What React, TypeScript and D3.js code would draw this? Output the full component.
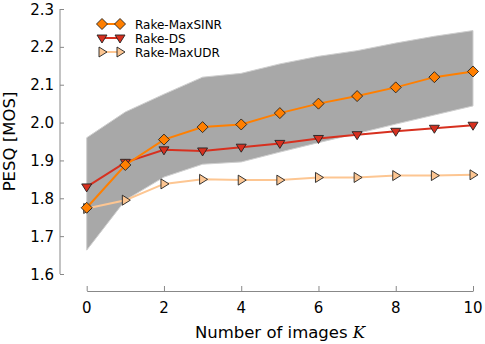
import { useEffect, useRef } from "react"
import * as d3 from "d3"

const ks = [0, 1, 2, 3, 4, 5, 6, 7, 8, 9, 10]
const maxSinr = [1.775, 1.888, 1.955, 1.988, 1.995, 2.025, 2.05, 2.07, 2.093, 2.12, 2.135]
const rakeDs = [1.83, 1.895, 1.928, 1.925, 1.935, 1.945, 1.958, 1.968, 1.977, 1.985, 1.993]
const maxUdr = [1.773, 1.795, 1.838, 1.85, 1.848, 1.848, 1.855, 1.855, 1.86, 1.86, 1.862]
const bandTop = [1.96, 2.028, 2.075, 2.12, 2.13, 2.155, 2.175, 2.19, 2.21, 2.228, 2.243]
const bandLow = [1.663, 1.795, 1.856, 1.89, 1.896, 1.922, 1.947, 1.971, 1.996, 2.02, 2.044]
const yTicks = [1.6, 1.7, 1.8, 1.9, 2.0, 2.1, 2.2, 2.3]
const xTicks = [0, 2, 4, 6, 8, 10]

const series = [
  { name: "Rake-MaxSINR", values: maxSinr, color: "#ff7f00", marker: "diamond" },
  { name: "Rake-DS", values: rakeDs, color: "#d7301f", marker: "down" },
  { name: "Rake-MaxUDR", values: maxUdr, color: "#fdc692", marker: "right" },
]

function markerPath(kind: string, s: number) {
  if (kind === "diamond") return `M0,${-s}L${s},0L0,${s}L${-s},0Z`
  if (kind === "down") return `M${-s},${-s * 0.6}L${s},${-s * 0.6}L0,${s}Z`
  return `M${-s * 0.6},${-s}L${s},0L${-s * 0.6},${s}Z`
}

function App() {
  const svgRef = useRef<SVGSVGElement>(null)
  const width = 485
  const height = 344

  useEffect(() => {
    const svg = d3.select(svgRef.current)
    svg.selectAll("*").remove()
    const font = "DejaVu Sans"

    const x = d3.scaleLinear().domain([0, 10]).range([86.7, 473])
    const y = d3.scaleLinear().domain([1.6, 2.3]).range([274, 9])

    // band
    const area = d3.area<number>()
      .x((d, i) => x(ks[i]))
      .y0((d, i) => y(bandLow[i]))
      .y1(d => y(d))
    svg.append("path")
      .attr("d", area(bandTop))
      .attr("fill", "#a8a8a8")
      .attr("stroke", "#cfcfcf")
      .attr("stroke-width", 1)

    // y axis
    const yAxis = svg.append("g").attr("transform", "translate(60,0)")
      .call(d3.axisRight(y).tickValues(yTicks).tickSize(4).tickFormat(() => ""))
    yAxis.select(".domain").attr("d", `M0,${y(1.6)}V${y(2.3)}`)
    yAxis.selectAll("line,path").attr("stroke", "#888")
    svg.append("g").selectAll("text").data(yTicks).join("text")
      .attr("x", 54).attr("y", d => y(d) + 5.5)
      .attr("text-anchor", "end")
      .attr("font-family", font).attr("font-size", 15)
      .text(d => d.toFixed(1))

    // x axis
    const xAxis = svg.append("g").attr("transform", "translate(0,291)")
      .call(d3.axisTop(x).tickValues(xTicks).tickSize(5).tickSizeOuter(0).tickFormat(() => ""))
    xAxis.selectAll("line,path").attr("stroke", "#888")
    svg.append("g").selectAll("text").data(xTicks).join("text")
      .attr("x", d => x(d)).attr("y", 313)
      .attr("text-anchor", "middle")
      .attr("font-family", font).attr("font-size", 15)
      .text(d => String(d))

    const xl = svg.append("text")
      .attr("x", 280).attr("y", 338)
      .attr("text-anchor", "middle")
      .attr("font-family", font).attr("font-size", 16.5)
    xl.append("tspan").text("Number of images ")
    xl.append("tspan").attr("font-style", "italic").attr("font-family", "DejaVu Serif").text("K")

    svg.append("text")
      .attr("transform", `translate(15,${y(1.95)}) rotate(-90)`)
      .attr("text-anchor", "middle")
      .attr("font-family", font).attr("font-size", 16.5)
      .text("PESQ [MOS]")

    // lines
    const line = d3.line<number>().x((d, i) => x(ks[i])).y(d => y(d))
    const order = [2, 1, 0]
    order.forEach(si => {
      const s = series[si]
      svg.append("path")
        .attr("d", line(s.values))
        .attr("fill", "none")
        .attr("stroke", s.color)
        .attr("stroke-width", 2)
    })
    order.forEach(si => {
      const s = series[si]
      const sz = s.marker === "diamond" ? 5.5 : 5
      svg.append("g").selectAll("path").data(s.values).join("path")
        .attr("transform", (d, i) => `translate(${x(ks[i])},${y(d)})`)
        .attr("d", markerPath(s.marker, sz))
        .attr("fill", s.color)
        .attr("stroke", "#222")
        .attr("stroke-width", 0.9)
    })

    // legend
    const lg = svg.append("g")
    series.forEach((s, i) => {
      const ly = 24 + i * 14
      lg.append("line").attr("x1", 102).attr("x2", 120).attr("y1", ly).attr("y2", ly)
        .attr("stroke", s.color).attr("stroke-width", 2)
      ;[102, 120].forEach(mx => {
        lg.append("path")
          .attr("transform", `translate(${mx},${ly})`)
          .attr("d", markerPath(s.marker, s.marker === "diamond" ? 5.5 : 5))
          .attr("fill", s.color).attr("stroke", "#222").attr("stroke-width", 0.9)
      })
      lg.append("text").attr("x", 135).attr("y", ly + 4.5)
        .attr("font-family", font).attr("font-size", 12)
        .text(s.name)
    })
  }, [])

  return (
    <svg ref={svgRef} width={width} height={height}
      style={{ position: "absolute", left: 0, top: 0 }} />
  )
}

export default App
